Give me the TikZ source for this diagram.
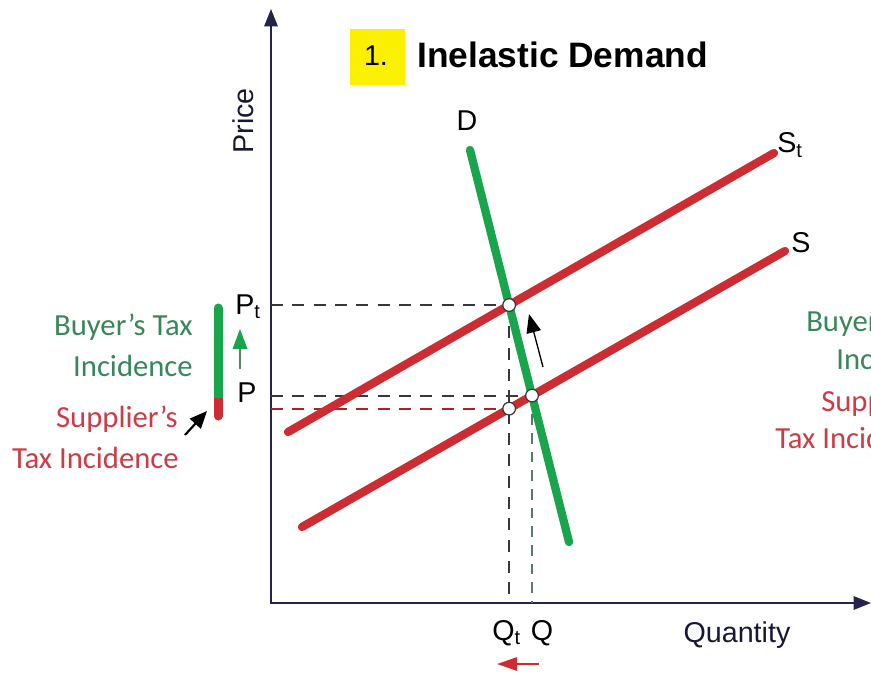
\documentclass[tikz,border=0pt]{standalone}
\usepackage{fontspec}
\setmainfont{Liberation Sans}
\newfontfamily\calfont{Carlito}
\usetikzlibrary{arrows.meta,intersections,calc}
\definecolor{axiscol}{RGB}{35,35,75}
\definecolor{redline}{RGB}{205,45,50}
\definecolor{greenline}{RGB}{25,165,75}
\definecolor{greentext}{RGB}{55,135,90}
\definecolor{redtext}{RGB}{205,60,70}
\definecolor{dashgray}{RGB}{55,55,60}
\definecolor{dashteal}{RGB}{90,120,110}
\definecolor{titleyellow}{RGB}{250,240,0}
\tikzset{
  axisline/.style={draw=axiscol, line width=1.5pt, -{Triangle[length=13pt,width=10pt]}},
  curve/.style={line width=6.2pt, line cap=round},
  dashblack/.style={draw=dashgray, line width=1.4pt, dash pattern=on 9pt off 7pt},
  dashred/.style={draw=redline!80!black, line width=1.4pt, dash pattern=on 9pt off 7pt},
  dashgreen/.style={draw=dashteal, line width=1.4pt, dash pattern=on 8pt off 6pt},
  eqpt/.style={circle, draw=dashgray, fill=white, line width=0.9pt, inner sep=0pt, minimum size=9.5pt},
  lbl/.style={font=\fontsize{21.5}{24}\selectfont, text=black, inner sep=0pt},
  sidetext/.style={font=\calfont\fontsize{23}{26}\selectfont, inner sep=0pt, anchor=base east},
  sidetextw/.style={font=\calfont\fontsize{23}{26}\selectfont, inner sep=0pt, anchor=base west},
  bararrow/.style={line width=1pt},
}
\begin{document}
\begin{tikzpicture}[x=0.75pt,y=-0.75pt]
\useasboundingbox (0,0) rectangle (871,675);
\clip (0,0) rectangle (871,675);
\fill[white] (0,0) rectangle (871,675);

% axes
\coordinate (O) at (271,603);
\coordinate (Ytop) at (271,9);
\coordinate (Xend) at (871,603);
\draw[axisline] (O) -- (Ytop);
\draw[axisline] ($(O)+(-1,0)$) -- (Xend);

% curve endpoints
\coordinate (St1) at (288,432);
\coordinate (St2) at (774,153);
\coordinate (S1) at (302,527);
\coordinate (S2) at (785,251);
\coordinate (D1) at (470,150);
\coordinate (D2) at (569,542);

\path[name path=st] (St1) -- (St2);
\path[name path=s] (S1) -- (S2);
\path[name path=d] (D1) -- (D2);
\path[name intersections={of=st and d, by=E1}];
\path[name intersections={of=s and d, by=E2}];
\path[name path=vq] (E1) -- (E1 |- O);
\path[name intersections={of=s and vq, by=E3}];

% dashed guides
\draw[dashblack] (E1 -| O) -- (E1);
\draw[dashblack] (E1) -- (E1 |- O);
\draw[dashblack] (E2 -| O) -- (E2);
\draw[dashgreen] (E2) -- (E2 |- O);
\draw[dashred] (E3 -| O) -- (E3);

% curves
\draw[curve, redline] (St1) -- (St2);
\draw[curve, redline] (S1) -- (S2);
\draw[curve, greenline] (D1) -- (D2);

% equilibrium points
\node[eqpt] (p1) at (E1) {};
\node[eqpt] (p2) at (E2) {};
\node[eqpt] (p3) at (E3) {};

% movement arrow
\coordinate (ma1) at (543,367);
\coordinate (ma2) at (529,314);
\draw[bararrow, draw=black, -{Triangle[length=14pt,width=11pt]}] (ma1) -- (ma2);

% curve labels
\node[lbl] (lD) at (467,121) {D};
\node[lbl, anchor=west] (lSt) at (777,145) {S\textsubscript{t}};
\node[lbl] (lS) at (801,243) {S};
\node[lbl, anchor=west] (lPt) at (235,307) {P\textsubscript{t}};
\node[lbl] (lP) at (247,393) {P};
\node[lbl, anchor=west] (lQt) at (492,633) {Q\textsubscript{t}};
\node[lbl] (lQ) at (542,633) {Q};
\node[lbl, text=axiscol!70!black] (lQuant) at (737,635) {Quantity};
\node[lbl, text=axiscol!70!black, rotate=90] (lPrice) at (243,121) {Price};

% title
\node[fill=titleyellow, minimum width=41pt, minimum height=42pt, inner sep=0pt] (tbox) at (377.5,57) {};
\node[lbl] (tnum) at (376,56) {1.};
\node[lbl, anchor=west, font=\bfseries\fontsize{26.5}{30}\selectfont] (title) at (417,55) {Inelastic Demand};

% incidence bar
\coordinate (b1) at (218,308);
\coordinate (b2) at (218,394);
\coordinate (b3) at (218,398);
\coordinate (b4) at (218,416);
\draw[redline, line width=6.75pt, line cap=round] (b3) -- (b4);
\draw[greenline, line width=6.75pt, line cap=round] (b1) -- (b2);
\draw[greenline, line width=6.75pt, line cap=butt] (b2) -- (b3);

% small arrows
\coordinate (ga1) at (240,369);
\coordinate (ga2) at (240,329);
\draw[bararrow, draw=greentext!60!gray, -{Triangle[length=15pt,width=11pt,fill=greenline,color=greenline]}] (ga1) -- (ga2);
\coordinate (ka1) at (185,435);
\coordinate (ka2) at (207,411);
\draw[bararrow, draw=black, line width=1.6pt, -{Triangle[length=13pt,width=11pt]}] (ka1) -- (ka2);
\coordinate (ra1) at (539,664);
\coordinate (ra2) at (497,664);
\draw[bararrow, draw=redline, line width=1.3pt, -{Triangle[length=15pt,width=10pt]}] (ra1) -- (ra2);

% left incidence texts
\node[sidetext, text=greentext] (bt1) at (193,335) {Buyer’s Tax};
\node[sidetext, text=greentext] (bt2) at (193,376) {Incidence};
\node[sidetext, text=redtext] (st1) at (178,427) {Supplier’s};
\node[sidetext, text=redtext] (st2) at (179,468) {Tax Incidence};

% right copies, cut off by the picture's edge as in the reference
\node[sidetextw, text=greentext] (rb1) at (806,331) {Buyer’s Tax};
\node[sidetextw, text=greentext] (rb2) at (836,369) {Incidence};
\node[sidetextw, text=redtext] (rs1) at (821,411) {Supplier’s};
\node[sidetextw, text=redtext] (rs2) at (775,448) {Tax Incidence};
\end{tikzpicture}
\end{document}
